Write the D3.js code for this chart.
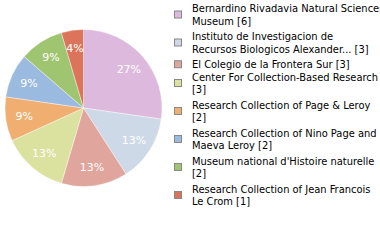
<!DOCTYPE html>
<html>
<head>
<meta charset="utf-8">
<script src="https://cdn.jsdelivr.net/npm/d3@7"></script>
<style>
  body { margin: 0; background: #fff; }
  svg { display: block; }
</style>
</head>
<body>
<div id="chart"></div>
<script>
// legend lines per institution (already wrapped like the original)
const labels = [
  ['Bernardino Rivadavia Natural Sciences', 'Museum [6]'],
  ['Instituto de Investigacion de', 'Recursos Biologicos Alexander... [3]'],
  ['El Colegio de la Frontera Sur [3]'],
  ['Center For Collection-Based Research', '[3]'],
  ['Research Collection of Page & Leroy', '[2]'],
  ['Research Collection of Nino Page and', 'Maeva Leroy [2]'],
  ['Museum national d\'Histoire naturelle', '[2]'],
  ['Research Collection of Jean Francois', 'Le Crom [1]']
];
const counts = [6, 3, 3, 3, 2, 2, 2, 1];
const colors = ['#ddbadd', '#cdd9e6', '#e0a59c', '#dbe19f', '#f0ae70', '#9bbadf', '#9fc571', '#dc745b'];

const width = 380, height = 240;
const cx = 83.5, cy = 108, radius = 78.5;

const svg = d3.select('#chart')
  .append('svg')
  .attr('width', width)
  .attr('height', height);

const total = d3.sum(counts);
const pie = d3.pie().sort(null).value(d => d)(counts);
const arc = d3.arc().innerRadius(0).outerRadius(radius);
const labelArc = d3.arc().innerRadius(60).outerRadius(60);

const g = svg.append('g')
  .attr('transform', 'translate(' + cx + ',' + cy + ')');

g.selectAll('path')
  .data(pie)
  .enter()
  .append('path')
  .attr('d', arc)
  .attr('fill', (d, i) => colors[i])
  .attr('stroke', '#fff')
  .attr('stroke-width', 0.4);

g.selectAll('text')
  .data(pie)
  .enter()
  .append('text')
  .attr('transform', d => 'translate(' + labelArc.centroid(d) + ')')
  .attr('text-anchor', 'middle')
  .attr('dy', '0.35em')
  .style('font-family', 'DejaVu Sans')
  .style('font-size', '11px')
  .style('fill', '#fff')
  .text(d => Math.floor(d.value / total * 100) + '%');

// legend
const lineH = 12.5;
const legend = svg.append('g');
let y = 2;
labels.forEach((lines, i) => {
  const blockH = lines.length * lineH;
  const item = legend.append('g').attr('transform', 'translate(0,' + y + ')');
  item.append('rect')
    .attr('x', 174.5)
    .attr('y', blockH / 2 - 3.5)
    .attr('width', 7)
    .attr('height', 7)
    .attr('fill', colors[i])
    .attr('stroke', '#888')
    .attr('stroke-width', 1);
  lines.forEach((t, j) => {
    item.append('text')
      .attr('x', 192)
      .attr('y', j * lineH + 10)
      .style('font-family', 'DejaVu Sans Condensed')
      .style('font-size', '11px')
      .style('fill', '#000')
      .text(t);
  });
  y += blockH + (lines.length > 1 ? 3 : 0);
});
</script>
</body>
</html>
